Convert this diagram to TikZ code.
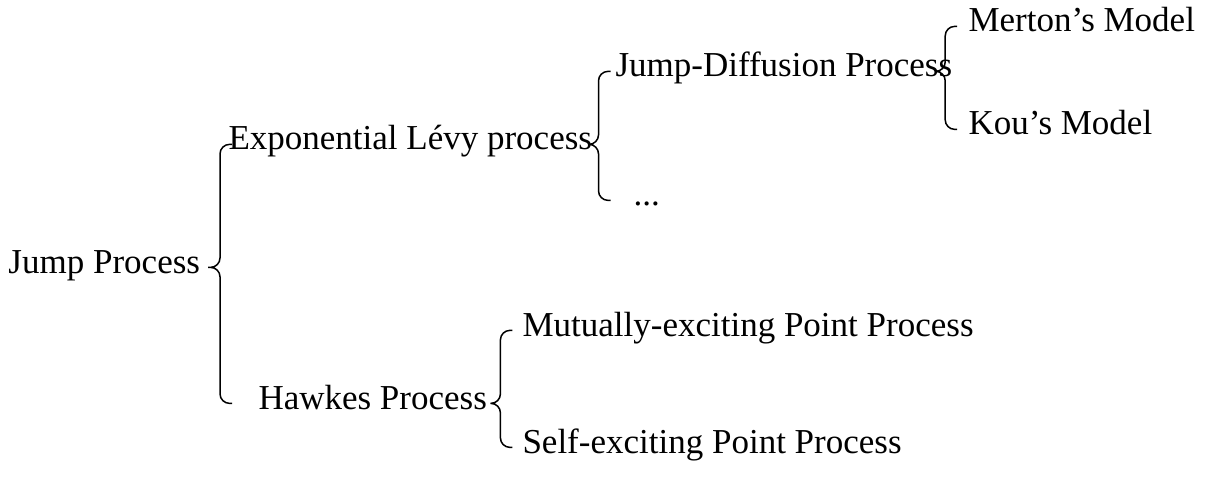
\documentclass[tikz,border=0pt]{standalone}
\usepackage{fontspec}
\setmainfont{Liberation Serif}
\usetikzlibrary{calc}

\begin{document}
\begin{tikzpicture}[x=0.4pt, y=-0.4pt,
    item/.style={anchor=base west, inner sep=0pt,
                 font=\fontsize{14}{16}\selectfont,
                 text height=0.7em, text depth=0.25em},
    % curly bracket: tip at the parent, arms ending next to each child
    brace/.style={line width=0.6pt, rounded corners=3.8pt,
                  to path={let \p1=(\tikztostart), \p2=(\tikztotarget) in
                           -- (\x1+#1,\y1) -- (\x1+#1,\y2) -- (\x1+#1+4.8pt,\y2)}},
    brace/.default=4pt
  ]
  \useasboundingbox (0,0) rectangle (1205,492);

  \node[item] (jp)  at (8,273)   {Jump Process};
  \node[item] (elp) at (228,150) {Exponential Lévy process};
  \node[item] (hp)  at (258,409) {Hawkes Process};

  \node[item] (jdp) at (615,77)  {Jump-Diffusion Process};
  \node[item] (etc) at (633,206) {...};
  \node[item] (mm)  at (968,32)  {Merton’s Model};
  \node[item] (km)  at (968,135) {Kou’s Model};

  \node[item] (mep) at (522,336) {Mutually-exciting Point Process};
  \node[item] (sep) at (522,453) {Self-exciting Point Process};

  \draw[brace=4.8pt] ([xshift=3pt]jp.east) to (elp.west)
                     ([xshift=3pt]jp.east) to (hp.west);
  \draw[brace=2.4pt] (elp.east) to (jdp.west)
                     (elp.east) to (etc.west);
  \draw[brace=2pt]   ([xshift=-5pt]jdp.east) to (mm.west)
                     ([xshift=-5pt]jdp.east) to (km.west);
  \draw[brace=4pt]   ([xshift=1.2pt]hp.east) to (mep.west)
                     ([xshift=1.2pt]hp.east) to (sep.west);
\end{tikzpicture}
\end{document}
